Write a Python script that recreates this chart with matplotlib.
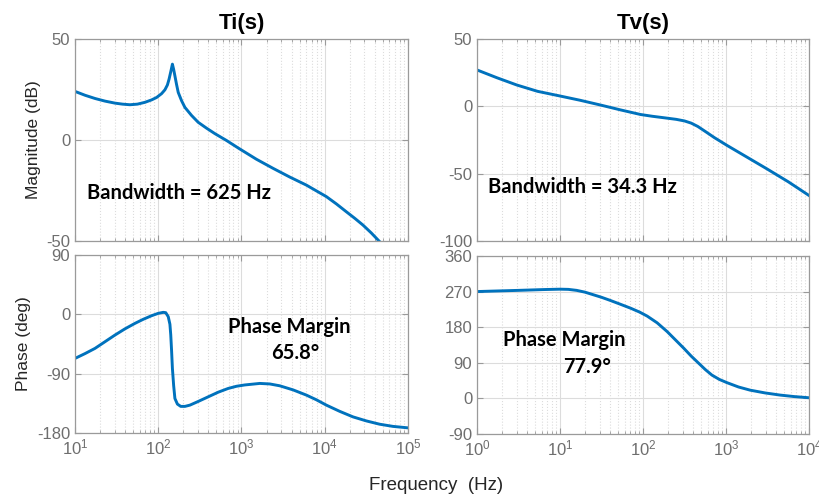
import numpy as np
import matplotlib
matplotlib.use('Agg')
import matplotlib.pyplot as plt

# ============ style (MATLAB-like bode look) ============
line_color = '#0072BD'
tick_color = '#6e6e6e'
label_color = '#262626'
spine_color = '#9a9a9a'
grid_color = '#dcdcdc'

plt.rcParams.update({
    'font.family': ['Liberation Sans', 'DejaVu Sans'],
    'axes.unicode_minus': False,
    'xtick.direction': 'in',
    'ytick.direction': 'in',
    'xtick.top': True,
    'ytick.right': True,
    'xtick.labelsize': 12,
    'ytick.labelsize': 12,
    'xtick.color': tick_color,
    'ytick.color': tick_color,
    'axes.edgecolor': spine_color,
})

# ============ data (frequency as log10(Hz)) ============
# Ti(s) magnitude
ti_mag_logf = [1.0, 1.12, 1.24, 1.36, 1.48, 1.57, 1.66, 1.75, 1.84, 1.92, 1.98, 2.04, 2.08,
               2.11, 2.13, 2.15, 2.17, 2.185, 2.20, 2.22, 2.24, 2.28, 2.32, 2.40, 2.48, 2.58,
               2.68, 2.82, 2.96, 3.18, 3.38, 3.58, 3.78, 4.02, 4.14, 4.26, 4.36, 4.46, 4.56, 4.66]
ti_mag_db = [24.1, 22.2, 20.6, 19.3, 18.3, 17.8, 17.5, 17.8, 18.7, 19.9, 21.1, 23.0, 24.9,
             27.3, 30.2, 33.8, 37.6, 35.0, 31.8, 27.5, 23.6, 19.5, 16.2, 12.2, 8.8, 5.9,
             3.2, -0.2, -3.9, -9.5, -14.0, -18.3, -22.3, -28.0, -31.6, -35.5, -38.7, -42.1, -46.0, -50.3]

# Ti(s) phase
ti_ph_logf = [1.0, 1.12, 1.24, 1.36, 1.48, 1.60, 1.72, 1.82, 1.92, 2.0, 2.06, 2.09, 2.12, 2.14,
              2.15, 2.16, 2.17, 2.185, 2.20, 2.23, 2.27, 2.32, 2.38, 2.48, 2.60, 2.72, 2.84,
              2.94, 3.04, 3.22, 3.34, 3.46, 3.62, 3.78, 3.90, 4.02, 4.18, 4.34, 4.50, 4.66, 4.82, 5.0]
ti_ph_deg = [-66.8, -59.5, -51.6, -41.5, -31.4, -22.0, -13.7, -7.5, -2.1, 1.5, 3.0, 2.5, -3.6, -15,
             -31, -55, -82, -108, -127.5, -136, -139.5, -139.5, -137.6, -132, -125, -118, -112.3,
             -109, -107, -104.7, -105.5, -108.3, -114.5, -122.4, -129.5, -137.6, -147, -155.4,
             -161.5, -166.5, -169.8, -172]

# Tv(s) magnitude
tv_mag_logf = [0.0, 0.24, 0.48, 0.73, 0.98, 1.24, 1.49, 1.73, 1.97, 2.11, 2.25, 2.40, 2.50,
               2.58, 2.66, 2.75, 2.86, 3.01, 3.25, 3.49, 3.75, 4.0]
tv_mag_db = [27.1, 21.3, 15.9, 11.2, 8.0, 4.6, 1.0, -2.6, -6.0, -7.3, -8.4, -9.6, -10.8,
             -12.4, -14.9, -18.6, -23.2, -28.9, -37.6, -46.3, -56.0, -66.2]

# Tv(s) phase
tv_ph_logf = [0.0, 0.5, 0.8, 1.0, 1.1, 1.2, 1.3, 1.4, 1.5, 1.6, 1.72, 1.85, 1.96, 2.05, 2.17,
              2.29, 2.39, 2.49, 2.58, 2.67, 2.75, 2.83, 2.92, 3.01, 3.15, 3.29, 3.47, 3.65, 3.82, 4.0]
tv_ph_deg = [270, 273, 275, 276, 275.5, 273, 268.5, 262, 255.5, 248, 238.5, 228, 218, 208, 191,
             169, 148, 127, 107, 89, 73, 59, 48, 40, 29, 21, 14, 8.6, 4.8, 1.8]


def style_axes(ax, xlim, ylim, yticks, show_xlabels):
    ax.set_xscale('log')
    ax.set_xlim(*xlim)
    ax.set_ylim(*ylim)
    ax.set_yticks(yticks)
    ax.grid(True, which='major', color=grid_color, linestyle='-', linewidth=0.8)
    ax.grid(True, which='minor', axis='x', color=grid_color, linestyle=':', linewidth=0.8)
    ax.set_axisbelow(True)
    ax.tick_params(which='major', length=4, width=0.8, color=spine_color)
    ax.tick_params(which='minor', length=2, width=0.6, color=spine_color)
    ax.tick_params(axis='y', which='minor', left=False, right=False)
    if not show_xlabels:
        ax.tick_params(axis='x', which='both', labelbottom=False)
    for s in ax.spines.values():
        s.set_linewidth(0.9)


def hz(logf):
    return 10.0 ** np.asarray(logf)


fig = plt.figure(figsize=(8.2, 4.95), dpi=100)

ax1 = fig.add_axes([0.0915, 0.513, 0.406, 0.408])
ax2 = fig.add_axes([0.0915, 0.125, 0.406, 0.360])
ax3 = fig.add_axes([0.5817, 0.513, 0.405, 0.408])
ax4 = fig.add_axes([0.5817, 0.123, 0.405, 0.360])

lw = 2.1
ax1.plot(hz(ti_mag_logf), ti_mag_db, color=line_color, linewidth=lw)
style_axes(ax1, (10, 1e5), (-50, 50), [-50, 0, 50], False)
ax1.set_ylabel('Magnitude (dB)', fontsize=12.5, color=label_color)
ax1.set_title('Ti(s)', fontsize=16, fontweight='bold', pad=7)

ax2.plot(hz(ti_ph_logf), ti_ph_deg, color=line_color, linewidth=lw)
style_axes(ax2, (10, 1e5), (-180, 90), [-180, -90, 0, 90], True)
ax2.set_ylabel('Phase (deg)', fontsize=12.5, color=label_color)

ax3.plot(hz(tv_mag_logf), tv_mag_db, color=line_color, linewidth=lw)
style_axes(ax3, (1, 1e4), (-100, 50), [-100, -50, 0, 50], False)
ax3.set_title('Tv(s)', fontsize=16, fontweight='bold', pad=7)

ax4.plot(hz(tv_ph_logf), tv_ph_deg, color=line_color, linewidth=lw)
style_axes(ax4, (1, 1e4), (-90, 360), [-90, 0, 90, 180, 270, 360], True)

# annotations
ann = dict(fontsize=14.5, fontweight='bold', family=['Lato', 'DejaVu Sans'], color='black')
ax1.text(0.036, 0.238, 'Bandwidth = 625 Hz', transform=ax1.transAxes, ha='left', va='center', **ann)
ax3.text(0.032, 0.27, 'Bandwidth = 34.3 Hz', transform=ax3.transAxes, ha='left', va='center', **ann)
ax2.text(0.643, 0.594, 'Phase Margin', transform=ax2.transAxes, ha='center', va='center', **ann)
ax2.text(0.661, 0.448, '65.8°', transform=ax2.transAxes, ha='center', va='center', **ann)
ax4.text(0.264, 0.528, 'Phase Margin', transform=ax4.transAxes, ha='center', va='center', **ann)
ax4.text(0.331, 0.378, '77.9°', transform=ax4.transAxes, ha='center', va='center', **ann)

fig.text(436.5 / 820, 1 - 485 / 495, 'Frequency  (Hz)', ha='center', va='center',
         fontsize=13.5, color=label_color)

fig.savefig('out.png', dpi=100, facecolor='white')
